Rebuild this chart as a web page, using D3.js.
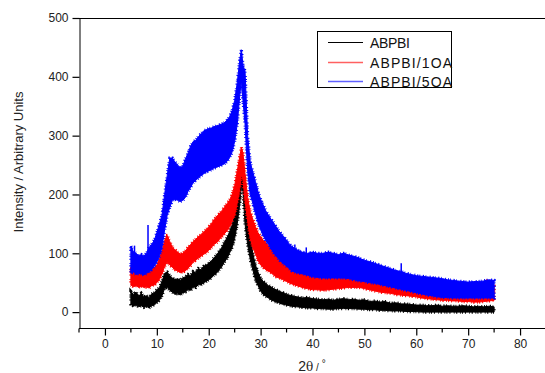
<!DOCTYPE html>
<html>
<head>
<meta charset="utf-8">
<script src="https://cdn.jsdelivr.net/npm/d3@7"></script>
<style>
  body { margin: 0; background: #fff; }
  svg { display: block; font-family: Arial, "Liberation Sans", sans-serif; }
</style>
</head>
<body>
<svg id="chart" width="545" height="373"></svg>
<script>
const angles = [
    5, 5.5, 6, 6.5, 7, 7.5, 8, 8.5, 9, 9.5, 10, 10.5, 11, 11.5, 12, 12.5, 13, 13.5, 14, 14.5,
    15, 15.5, 16, 16.5, 17, 17.5, 18, 18.5, 19, 19.5, 20, 20.5, 21, 21.5, 22, 22.5, 23, 23.5, 24, 24.5,
    25, 25.5,
    26, 26.3, 26.6, 27, 27.5,
    28, 28.5, 29, 29.5, 30, 30.5, 31, 31.5, 32, 32.5, 33, 33.5, 34, 34.5, 35, 35.5, 36,
    37, 38, 39, 40, 41, 42, 43, 44, 45, 46, 47, 48, 49, 50, 51, 52, 53, 54, 55, 56,
    57, 58, 59, 60, 61, 62, 63, 64, 65, 66, 67, 68, 69, 70, 71, 72, 73, 74, 75];

// noisy traces -> lower / upper edge of the band
const abpbiLo = [
    13, 10, 12, 9, 11, 8, 10, 7, 11, 12, 16, 20, 28, 40, 42, 37, 34, 30, 32, 29,
    33, 34, 38, 37, 43, 42, 47, 46, 50, 52, 55, 58, 63, 66, 72, 77, 85, 91, 100, 110,
    125, 150,
    185, 215, 205, 150, 115,
    90, 72, 55, 45, 36, 30, 27, 24, 21, 19, 17, 16, 14, 13, 12, 11, 10,
    9, 8, 7, 7, 6, 6, 5, 5, 6, 6, 6, 6, 5, 5, 4, 4, 3, 3, 2, 2,
    2, 1, 1, 1, 0, 0, 0, 0, 0, 0, 0, 0, 0, 0, 0, 0, 0, 0, 0];
const abpbiHi = [
    35, 30, 34, 27, 32, 26, 28, 25, 31, 33, 38, 42, 52, 66, 68, 62, 58, 55, 57, 54,
    58, 60, 64, 62, 69, 67, 74, 72, 78, 80, 83, 87, 92, 97, 103, 110, 118, 126, 136, 148,
    165, 195,
    235, 255, 250, 200, 155,
    125, 100, 80, 68, 58, 52, 49, 45, 43, 40, 38, 36, 34, 33, 30, 29, 28,
    26, 24, 25, 23, 22, 21, 22, 20, 22, 23, 21, 22, 20, 21, 18, 19, 17, 18, 15, 16,
    14, 14, 13, 12, 12, 11, 11, 12, 10, 11, 10, 10, 11, 10, 9, 10, 9, 10, 9];

const abpbi1Lo = [
    46, 43, 45, 42, 44, 42, 43, 41, 45, 46, 50, 56, 65, 78, 85, 80, 76, 72, 70, 67,
    68, 70, 75, 79, 85, 88, 92, 95, 98, 101, 105, 110, 115, 118, 123, 128, 133, 138, 145, 155,
    165, 185,
    210, 235, 225, 190, 155,
    125, 110, 100, 88, 80, 76, 72, 70, 67, 63, 60, 58, 57, 54, 52, 50, 48,
    45, 42, 40, 38, 38, 37, 38, 39, 40, 41, 42, 42, 42, 40, 38, 36, 34, 33, 32, 30,
    29, 28, 27, 26, 24, 23, 22, 21, 20, 20, 19, 19, 18, 18, 17, 17, 18, 19, 20];
const abpbi1Hi = [
    76, 70, 72, 66, 69, 65, 68, 67, 72, 75, 80, 90, 105, 122, 130, 120, 110, 106, 102, 99,
    100, 104, 110, 115, 120, 124, 128, 132, 136, 140, 145, 150, 157, 162, 167, 172, 178, 184, 190, 200,
    215, 240,
    265, 280, 270, 235, 195,
    170, 158, 145, 135, 128, 122, 118, 113, 110, 106, 102, 100, 97, 95, 92, 90, 88,
    82, 78, 74, 70, 70, 69, 70, 68, 70, 71, 70, 69, 68, 66, 64, 62, 60, 58, 55, 53,
    50, 50, 49, 47, 46, 46, 45, 45, 44, 43, 44, 43, 43, 44, 43, 45, 48, 54, 45];

const abpbi5Lo = [
    66, 68, 64, 66, 65, 63, 66, 68, 72, 78, 85, 95, 110, 140, 165, 178, 190, 192, 190, 188,
    190, 195, 205, 212, 220, 224, 228, 232, 235, 238, 240, 242, 245, 246, 248, 250, 252, 256, 262, 272,
    290, 320,
    370, 395, 360, 320, 240,
    200, 185, 168, 152, 140, 130, 122, 115, 108, 101, 95, 90, 85, 82, 78, 74, 70,
    67, 65, 63, 60, 59, 58, 58, 58, 58, 58, 57, 55, 53, 52, 50, 49, 47, 45, 43, 41,
    39, 37, 35, 33, 31, 29, 28, 26, 25, 25, 24, 24, 24, 24, 24, 24, 24, 24, 24];
const abpbi5Hi = [
    112, 102, 100, 96, 98, 95, 100, 110, 115, 122, 135, 150, 165, 200, 232, 262, 262, 255, 250, 246,
    248, 260, 270, 282, 290, 292, 298, 303, 308, 310, 312, 313, 315, 317, 318, 320, 322, 326, 332, 342,
    360, 390,
    430, 446, 420, 410, 300,
    255, 238, 222, 205, 192, 182, 172, 165, 158, 152, 145, 138, 133, 128, 122, 116, 112,
    106, 102, 100, 102, 100, 100, 102, 100, 98, 100, 97, 95, 92, 88, 86, 83, 80, 77, 74, 71,
    69, 66, 64, 62, 61, 60, 59, 58, 57, 55, 54, 53, 52, 51, 52, 52, 53, 55, 54];

// single needles standing out of the bands: [2theta, from, to]
const abpbiSpikes = [];
const abpbi1Spikes = [[11.9, 115, 133], [73.6, 45, 56]];
const abpbi5Spikes = [[5.7, 90, 113], [8.3, 95, 148], [36.6, 100, 115], [38.8, 95, 110], [57.1, 68, 83]];

const seriesNames = ["ABPBI", "ABPBI/1OA", "ABPBI/5OA"];
const seriesColors = ["#000000", "#ff0000", "#0000ff"];
const legendColors = ["#000000", "#ff6060", "#6060ff"];

const xTicks = [0, 10, 20, 30, 40, 50, 60, 70, 80];
const xMinorTicks = [-5, 5, 15, 25, 35, 45, 55, 65, 75, 85];
const yTicks = [0, 100, 200, 300, 400, 500];

const series = [
    { name: seriesNames[0], color: seriesColors[0], key: legendColors[0], lo: abpbiLo, hi: abpbiHi, spikes: abpbiSpikes },
    { name: seriesNames[1], color: seriesColors[1], key: legendColors[1], lo: abpbi1Lo, hi: abpbi1Hi, spikes: abpbi1Spikes },
    { name: seriesNames[2], color: seriesColors[2], key: legendColors[2], lo: abpbi5Lo, hi: abpbi5Hi, spikes: abpbi5Spikes },
];

const margin = { top: 18, right: 0, bottom: 45, left: 79 };
const width = 545, height = 373;
const font = "Arial, 'Liberation Sans', sans-serif";

const $svg = d3.select("#chart");

const x = d3.scaleLinear()
    .domain([-5, 85])
    .range([margin.left, width + 1]);
const y = d3.scaleLinear()
    .domain([-27, 500])
    .range([height - margin.bottom, margin.top]);

// bands
const area = d3.area()
    .x((d, i) => x(angles[i]))
    .y0(d => y(d[0]))
    .y1(d => y(d[1]));

series.forEach(s => {
    const pts = s.lo.map((v, i) => [v, s.hi[i]]);
    const $g = $svg.append("g");
    $g.append("path")
        .datum(pts)
        .attr("d", area)
        .attr("fill", s.color)
        .attr("stroke", s.color)
        .attr("stroke-width", 1);
    // ragged outline, gives the edge its noisy look
    $g.append("path")
        .datum(pts)
        .attr("d", area)
        .attr("fill", "none")
        .attr("stroke", s.color)
        .attr("stroke-width", 3.2)
        .attr("stroke-dasharray", "1,1.2,0.8,2.6,1.2,1.6,0.7,3.4,1,2");
    $g.selectAll("line")
        .data(s.spikes)
        .join("line")
        .attr("x1", d => x(d[0]))
        .attr("x2", d => x(d[0]))
        .attr("y1", d => y(d[1]))
        .attr("y2", d => y(d[2]))
        .attr("stroke", s.color)
        .attr("stroke-width", 1.5);
});

// axes
const xAxis = d3.axisBottom(x).tickValues(xTicks).tickSize(7).tickSizeOuter(0).tickPadding(4);
const yAxis = d3.axisLeft(y).tickValues(yTicks).tickSize(7).tickSizeOuter(0).tickPadding(4);

const $xAxis = $svg.append("g")
    .attr("transform", `translate(0,${height - margin.bottom + 0.5})`)
    .call(xAxis);
$xAxis.select(".domain").attr("d", `M${margin.left},0H${width}`);
$xAxis.selectAll(".tick line").attr("stroke-width", 1.2);
$xAxis.selectAll(".tick text").attr("font-size", 12).attr("fill", "#222").attr("font-family", font);

$xAxis.selectAll(".minor")
    .data(xMinorTicks)
    .join("line")
    .attr("class", "minor")
    .attr("x1", d => x(d))
    .attr("x2", d => x(d))
    .attr("y1", 0)
    .attr("y2", 4)
    .attr("stroke", "#000")
    .attr("stroke-width", 1.2);

const $yAxis = $svg.append("g")
    .attr("transform", `translate(${margin.left + 0.5},0)`)
    .call(yAxis);
$yAxis.selectAll(".tick line").attr("stroke-width", 1.2);
$yAxis.selectAll(".tick text").attr("font-size", 12).attr("fill", "#222").attr("font-family", font);

// top frame line
$svg.append("line")
    .attr("x1", margin.left)
    .attr("x2", width)
    .attr("y1", margin.top + 0.5)
    .attr("y2", margin.top + 0.5)
    .attr("stroke", "#000");

// axis titles
$svg.append("text")
    .attr("transform", `translate(23,162) rotate(-90)`)
    .attr("text-anchor", "middle")
    .attr("font-size", 13)
    .attr("fill", "#222")
    .text("Intensity / Arbitrary Units");

const $xTitle = $svg.append("text")
    .attr("x", 312)
    .attr("y", 371)
    .attr("text-anchor", "middle")
    .attr("fill", "#222");
$xTitle.append("tspan").attr("font-size", 14).text("2");
$xTitle.append("tspan").attr("font-size", 12).attr("font-family", "'DejaVu Serif', serif").text("θ");
$xTitle.append("tspan").attr("font-size", 10).text(" / ");
$xTitle.append("tspan").attr("font-size", 10).attr("dy", -4).text("°");

// legend
const $legend = $svg.append("g");
$legend.append("rect")
    .attr("x", 317.5)
    .attr("y", 31.5)
    .attr("width", 134)
    .attr("height", 56)
    .attr("fill", "#fff")
    .attr("stroke", "#000");

const legendRows = $legend.selectAll(".row")
    .data(series)
    .join("g")
    .attr("class", "row")
    .attr("transform", (d, i) => `translate(0,${Math.round(42 + i * 19.5) + 0.5})`);
legendRows.append("path")
    .attr("d", "M328,0H363")
    .attr("fill", "none")
    .attr("stroke", d => d.key)
    .attr("stroke-width", (d, i) => i === 0 ? 1 : 1.4);
legendRows.append("text")
    .attr("x", 370)
    .attr("y", 5)
    .attr("font-size", 14)
    .attr("fill", "#111")
    .attr("textLength", (d, i) => i === 0 ? 40 : 82)
    .attr("lengthAdjust", "spacing")
    .text(d => d.name);
</script>
</body>
</html>
